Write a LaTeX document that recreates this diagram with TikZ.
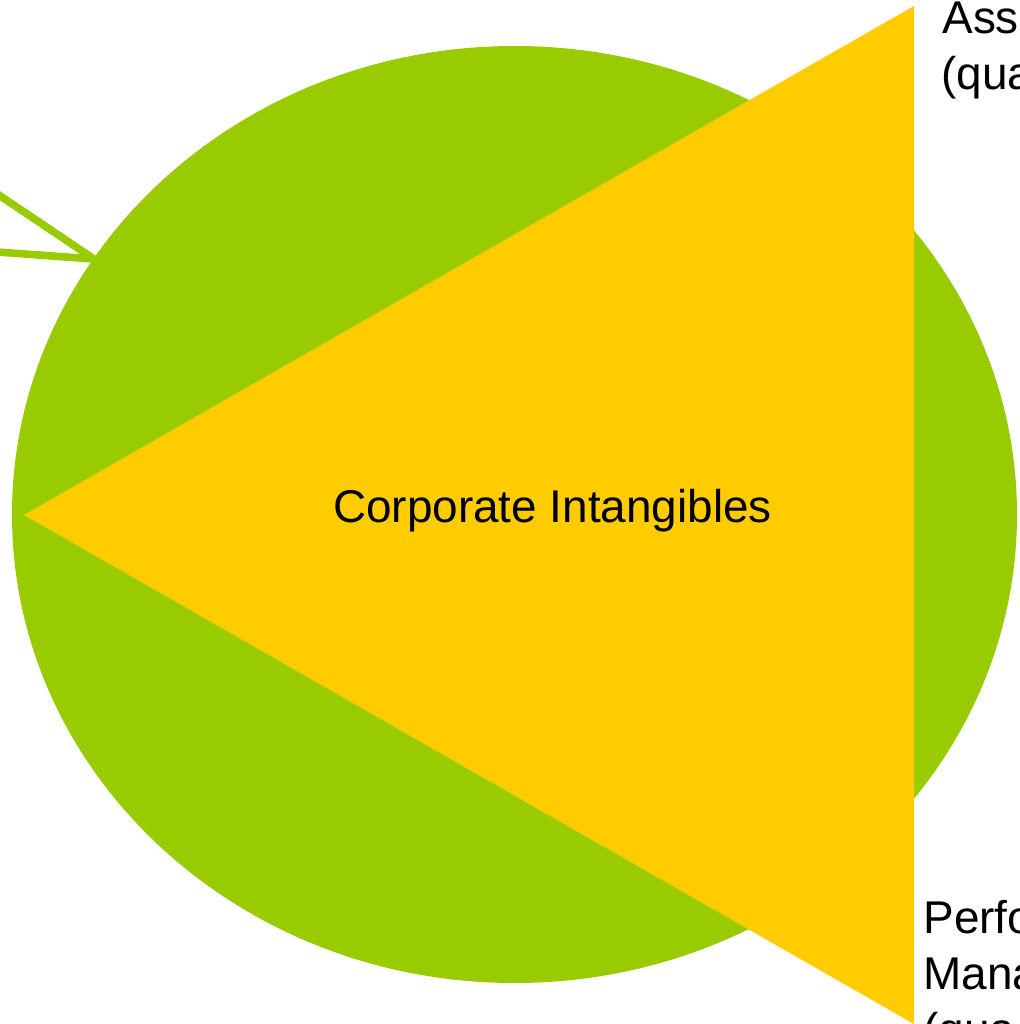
\documentclass[tikz,border=0pt]{standalone}
\usepackage{fontspec}
\setmainfont{Liberation Sans}
\begin{document}
\begin{tikzpicture}[x=0.5pt,y=-0.5pt,
  lbl/.style={inner sep=0pt,anchor=base west,font=\fontsize{22.95pt}{28pt}\selectfont},
  pointer/.style={draw=leaf,line width=3.8pt,miter limit=20,line join=miter}]
\definecolor{leaf}{HTML}{99CC00}
\definecolor{sun}{HTML}{FFCC00}
\useasboundingbox (0,0) rectangle (1019,1024);
\begin{scope}
\clip (0,0) rectangle (1019,1024);
% pointer strokes at the upper left, tucked under the disc
\coordinate (pa) at (-10,189);
\coordinate (pt) at (94,259);
\coordinate (pb) at (-10,251.5);
\draw[pointer] (pa) -- (pt) -- (pb);
% green disc
\fill[leaf] (514.5,514.5) ellipse [x radius=502.5, y radius=468.5];
% yellow triangle
\coordinate (tl) at (24,515);
\coordinate (tt) at (914,6);
\coordinate (tb) at (914,1024);
\fill[sun] (tl) -- (tt) -- (tb) -- cycle;
\node[inner sep=0pt,anchor=base,font=\fontsize{22.95pt}{28pt}\selectfont] (core) at (552.5,522) {Corporate Intangibles};
% side labels
\node[lbl] (a1) at (942,33) {Ass};
\node[lbl] (a2) at (941,89) {(qua};
\node[lbl] (p1) at (923,933) {Perfo};
\node[lbl] (p2) at (923,989) {Mana};
\node[lbl] (p3) at (923,1045) {(qua};
\end{scope}
\end{tikzpicture}
\end{document}
